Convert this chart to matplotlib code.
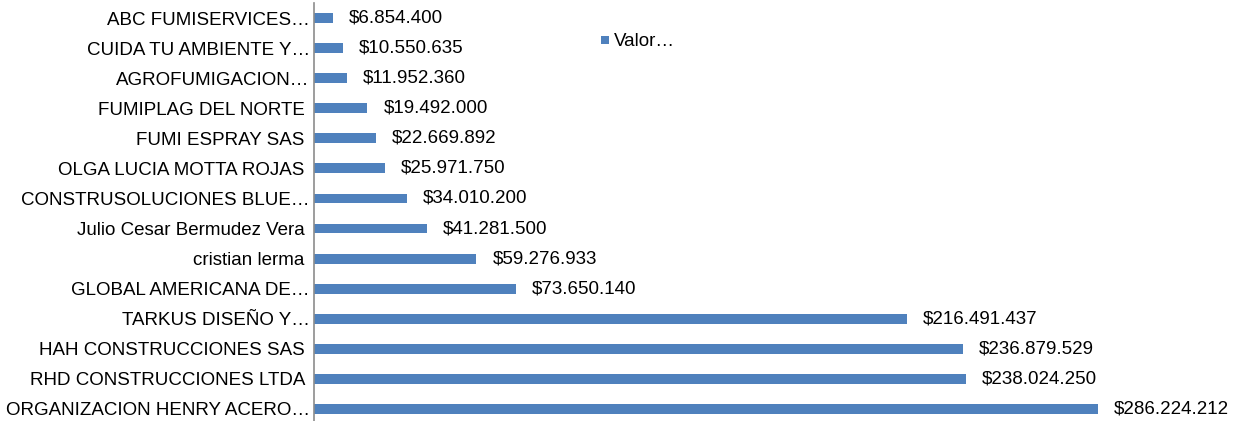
import matplotlib
matplotlib.use("Agg")
import matplotlib.pyplot as plt

plt.rcParams['font.family'] = ['Liberation Sans', 'DejaVu Sans']

# data, top to bottom as drawn
empresas = [
    "ABC FUMISERVICES…",
    "CUIDA TU AMBIENTE Y…",
    "AGROFUMIGACION…",
    "FUMIPLAG DEL NORTE ",
    "FUMI ESPRAY SAS ",
    "OLGA LUCIA MOTTA ROJAS ",
    "CONSTRUSOLUCIONES BLUE…",
    "Julio Cesar Bermudez Vera ",
    "cristian lerma ",
    "GLOBAL AMERICANA DE…",
    "TARKUS DISEÑO Y…",
    "HAH CONSTRUCCIONES SAS ",
    "RHD CONSTRUCCIONES LTDA ",
    "ORGANIZACION HENRY ACERO…",
]
valores = [6854400, 10550635, 11952360, 19492000, 22669892, 25971750, 34010200,
           41281500, 59276933, 73650140, 216491437, 236879529, 238024250, 286224212]
etiquetas = ["$6.854.400", "$10.550.635", "$11.952.360", "$19.492.000", "$22.669.892",
             "$25.971.750", "$34.010.200", "$41.281.500", "$59.276.933", "$73.650.140",
             "$216.491.437", "$236.879.529", "$238.024.250", "$286.224.212"]

W, H = 1234, 421
fs = 13.5
fig = plt.figure(figsize=(W / 100, H / 100), dpi=100)
ax = fig.add_axes([314 / W, -3 / H, (W - 314) / W, 421 / H])

y = list(range(len(empresas)))
bars = ax.barh(y, valores, height=0.33, color="#4F81BD", label="Valor…")
ax.set_ylim(len(empresas) - 0.5, -0.5)
ax.set_xlim(0, (W - 314) / 2.739 * 1e6)

for b, txt in zip(bars, etiquetas):
    ax.annotate(txt, (b.get_width(), b.get_y() + b.get_height() / 2),
                xytext=(16, 0), textcoords='offset pixels',
                ha='left', va='center', fontsize=fs, color='black')

ax.set_yticks(y)
ax.set_yticklabels(empresas, fontsize=fs)
ax.tick_params(axis='y', length=0, pad=3)
ax.set_xticks([])
for s in ['top', 'right', 'bottom']:
    ax.spines[s].set_visible(False)
ax.spines['left'].set_color('#8c8c8c')
ax.spines['left'].set_linewidth(1.2)

fig.legend(handles=[bars], labels=["Valor…"], loc='center left',
           bbox_to_anchor=(584 / W, 1 - 42 / H), frameon=False,
           handlelength=0.45, handleheight=0.3, handletextpad=0.25,
           fontsize=fs)

fig.savefig("out.png", dpi=100)
